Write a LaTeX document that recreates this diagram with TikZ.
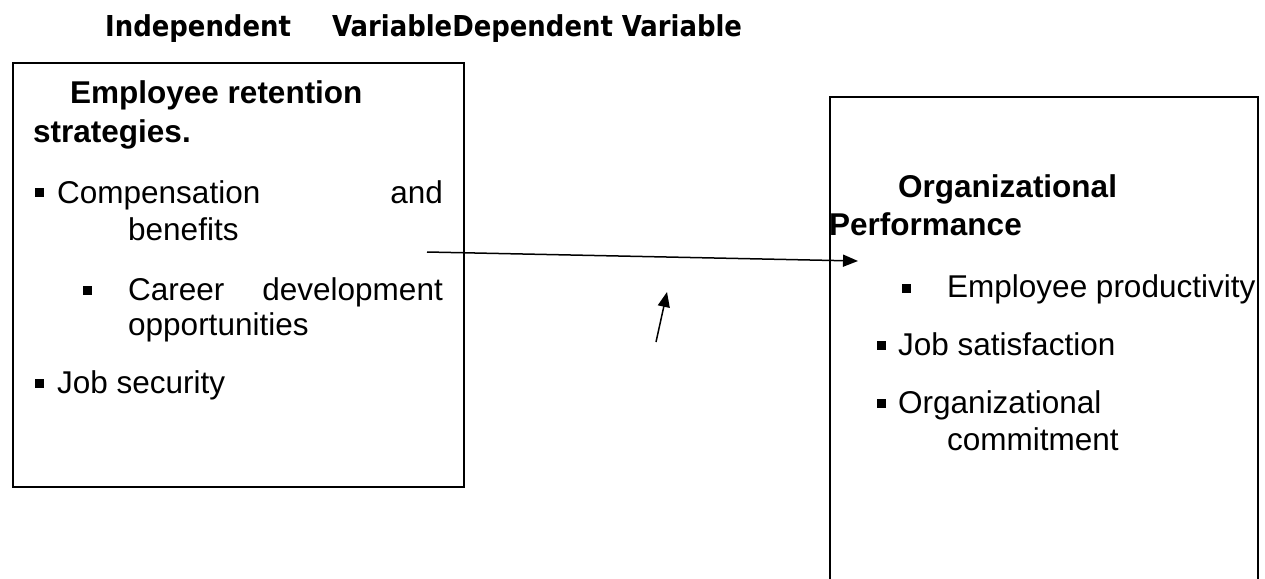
\documentclass[tikz,border=0pt]{standalone}
\usepackage{fontspec}
\setmainfont{Liberation Sans}
\newfontfamily\hdrfont{DejaVu Sans Condensed}
\usetikzlibrary{arrows.meta}
\tikzset{
  box/.style={draw=black, line width=1.5pt, inner sep=0pt, anchor=north west},
  txt/.style={anchor=base west, inner sep=0pt, font=\fontsize{31.5}{36}\selectfont},
  txte/.style={anchor=base east, inner sep=0pt, font=\fontsize{31.5}{36}\selectfont},
  ttl/.style={anchor=base west, inner sep=0pt, font=\fontsize{31.5}{36}\selectfont\bfseries},
  hdr/.style={anchor=base west, inner sep=0pt, font=\hdrfont\bfseries\fontsize{28.8}{32}\selectfont},
  bul/.style={fill=black, minimum size=9pt, inner sep=0pt},
  conn/.style={line width=1.5pt, -{Triangle[length=15pt,width=12pt]}}
}
\begin{document}
\begin{tikzpicture}[x=1pt,y=-1pt]
\clip (0,0) rectangle (1265,578);
\fill[white] (0,0) rectangle (1265,578);
% header
\node[hdr] (h1) at (105,37) {Independent};
\node[hdr] (h2) at (332,37) {VariableDependent Variable};
% boxes
\node[box, minimum width=451pt, minimum height=424pt] (lbox) at (12,62) {};
\node[box, minimum width=428pt, minimum height=520pt] (rbox) at (829,96) {};
% left box text
\node[ttl] (l1) at (70,103) {Employee retention};
\node[ttl] (l2) at (33,142) {strategies.};
\node[bul] (b1) at (39.5,192.5) {};
\node[txt] (l3) at (57,203) {Compensation};
\node[txte] (l3b) at (443,203) {and};
\node[txt] (l4) at (128,240) {benefits};
\node[bul] (b2) at (87.5,290) {};
\node[txt] (l5) at (128,300) {Career};
\node[txte] (l5b) at (443,300) {development};
\node[txt] (l6) at (128,335) {opportunities};
\node[bul] (b3) at (39.5,383) {};
\node[txt] (l7) at (57,393) {Job security};
% right box text
\node[ttl] (r1) at (898,197) {Organizational};
\node[ttl] (r2) at (829,235) {Performance};
\node[bul] (c1) at (906,288.5) {};
\node[txt] (r3) at (947,297) {Employee productivity};
\node[bul] (c2) at (881,345) {};
\node[txt] (r4) at (898,355) {Job satisfaction};
\node[bul] (c3) at (881,403) {};
\node[txt] (r5) at (898,413) {Organizational};
\node[txt] (r6) at (947,450) {commitment};
% connectors
\coordinate (a1s) at (427,252);
\coordinate (a1e) at (858,261);
\coordinate (a2s) at (656,342);
\coordinate (a2e) at (667,292);
\draw[conn] (a1s) -- (a1e);
\draw[conn] (a2s) -- (a2e);
\end{tikzpicture}
\end{document}
